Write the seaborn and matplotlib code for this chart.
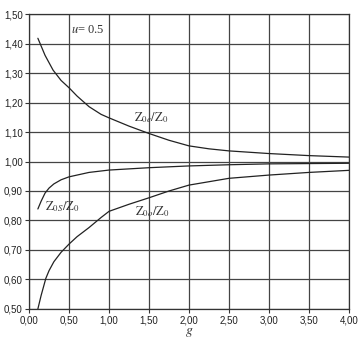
import numpy as np
import pandas as pd
import matplotlib
matplotlib.use("Agg")
import matplotlib.pyplot as plt
import seaborn as sns
from matplotlib.ticker import FuncFormatter

sns.set_theme(style="white")
plt.rcParams['font.family'] = ['Liberation Sans', 'DejaVu Sans']
plt.rcParams['mathtext.fontset'] = 'stix'

# Data
g_e = [0.11, 0.20, 0.30, 0.40, 0.50, 0.60, 0.75, 0.90, 1.00, 1.25, 1.50, 1.75, 2.00, 2.25, 2.50, 3.00, 3.50, 4.00]
z0e = [1.418, 1.36, 1.31, 1.275, 1.250, 1.222, 1.186, 1.160, 1.148, 1.120, 1.095, 1.072, 1.053, 1.043, 1.036, 1.027, 1.020, 1.015]

g_s = [0.11, 0.15, 0.20, 0.25, 0.31, 0.40, 0.50, 0.75, 1.00, 1.50, 2.00, 2.50, 3.00, 3.50, 4.00]
z0s = [0.839, 0.865, 0.893, 0.910, 0.924, 0.938, 0.948, 0.963, 0.971, 0.979, 0.985, 0.989, 0.992, 0.993, 0.994]

g_o = [0.11, 0.15, 0.21, 0.25, 0.31, 0.40, 0.50, 0.60, 0.75, 0.90, 1.00, 1.25, 1.50, 1.75, 2.00, 2.50, 3.00, 3.50, 4.00]
z0o = [0.50, 0.545, 0.604, 0.630, 0.660, 0.692, 0.720, 0.745, 0.776, 0.810, 0.831, 0.855, 0.877, 0.900, 0.920, 0.943, 0.954, 0.963, 0.970]

x_ticks = [0.0, 0.5, 1.0, 1.5, 2.0, 2.5, 3.0, 3.5, 4.0]
y_ticks = [0.5, 0.6, 0.7, 0.8, 0.9, 1.0, 1.1, 1.2, 1.3, 1.4, 1.5]

fig = plt.figure(figsize=(3.59, 3.44), dpi=100)
ax = fig.add_axes([0.081, 0.102, 0.891, 0.857])

line_kw = dict(color='#222222', linewidth=0.9, ax=ax, legend=False)
sns.lineplot(x=g_e, y=z0e, **line_kw)
sns.lineplot(x=g_s, y=z0s, **line_kw)
sns.lineplot(x=g_o, y=z0o, **line_kw)

ax.set_xlim(0, 4)
ax.set_ylim(0.5, 1.5)
ax.set_xticks(x_ticks)
ax.set_yticks(y_ticks)
fmt = FuncFormatter(lambda v, p: f"{v:.2f}".replace('.', ','))
ax.xaxis.set_major_formatter(fmt)
ax.yaxis.set_major_formatter(fmt)
ax.tick_params(axis='both', labelsize=7, length=3, width=0.8, color='#333333',
               pad=1.5, direction='out', bottom=True, left=True, labelcolor='#222222')
ax.grid(True, color='#444444', linewidth=0.9)
for s in ax.spines.values():
    s.set_color('#333333')
    s.set_linewidth(0.9)

ax.set_xlabel(r'$g$', fontsize=10, labelpad=0, color='#333333')
ax.set_ylabel('')

tkw = dict(fontsize=9, color='#333333', ha='center', va='center')
ax.text(0.73, 1.445, r'$u$= 0.5', family='Liberation Serif', **tkw)
ax.text(1.53, 1.148, r'$\mathrm{Z}_{0e}/\mathrm{Z}_0$', **tkw)
ax.text(0.41, 0.848, r'$\mathrm{Z}_{0S}/\mathrm{Z}_0$', **tkw)
ax.text(1.54, 0.831, r'$\mathrm{Z}_{0o}/\mathrm{Z}_0$', **tkw)

fig.savefig('out.png', dpi=100)
